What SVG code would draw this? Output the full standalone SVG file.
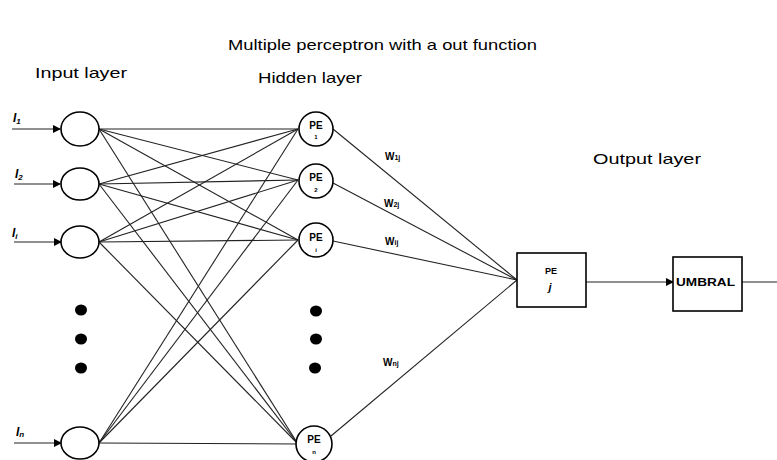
<svg xmlns="http://www.w3.org/2000/svg" width="777" height="460" viewBox="0 0 777 460">
<defs>
<marker id="ah" markerWidth="8" markerHeight="8" refX="7" refY="4" orient="auto" markerUnits="userSpaceOnUse">
<path d="M0,0 L8,4 L0,8 Z" fill="#000"/>
</marker>
<style>
.lbl{font-family:"Liberation Sans",Arial,sans-serif;font-size:15px;fill:#000}
.sm{font-family:"Liberation Sans",Arial,sans-serif;font-weight:bold;fill:#000}
.node{fill:#fff;stroke:#000;stroke-width:1.6}
.ln{stroke:#222;stroke-width:1.1;fill:none}
.dot{fill:#000}
</style>
</defs>
<rect width="777" height="460" fill="#fff"/>
<text class="lbl" x="228" y="50" textLength="309" lengthAdjust="spacingAndGlyphs">Multiple perceptron with a out function</text>
<text class="lbl" x="35" y="78" textLength="92" lengthAdjust="spacingAndGlyphs">Input layer</text>
<text class="lbl" x="258" y="83" textLength="104" lengthAdjust="spacingAndGlyphs">Hidden layer</text>
<text class="lbl" x="593" y="164" textLength="108" lengthAdjust="spacingAndGlyphs">Output layer</text>
<g id="connectors">
<line class="ln" x1="12" y1="129" x2="60" y2="129" marker-end="url(#ah)" stroke-width="1.4"/>
<line class="ln" x1="14" y1="184" x2="60" y2="184" marker-end="url(#ah)" stroke-width="1.4"/>
<line class="ln" x1="14" y1="242" x2="61" y2="242" marker-end="url(#ah)" stroke-width="1.4"/>
<line class="ln" x1="14" y1="443" x2="61" y2="443" marker-end="url(#ah)" stroke-width="1.4"/>
<g>
<line class="ln" x1="99" y1="129" x2="298" y2="129"/>
<line class="ln" x1="99" y1="129" x2="298" y2="180"/>
<line class="ln" x1="99" y1="129" x2="298" y2="240"/>
<line class="ln" x1="99" y1="129" x2="298" y2="444"/>
<line class="ln" x1="99" y1="184" x2="298" y2="129"/>
<line class="ln" x1="99" y1="184" x2="298" y2="180"/>
<line class="ln" x1="99" y1="184" x2="298" y2="240"/>
<line class="ln" x1="99" y1="184" x2="298" y2="444"/>
<line class="ln" x1="99" y1="242" x2="298" y2="129"/>
<line class="ln" x1="99" y1="242" x2="298" y2="180"/>
<line class="ln" x1="99" y1="242" x2="298" y2="240"/>
<line class="ln" x1="99" y1="242" x2="298" y2="444"/>
<line class="ln" x1="99" y1="443" x2="298" y2="129"/>
<line class="ln" x1="99" y1="443" x2="298" y2="180"/>
<line class="ln" x1="99" y1="443" x2="298" y2="240"/>
<line class="ln" x1="99" y1="443" x2="298" y2="444"/>
</g>
<line class="ln" x1="333" y1="129" x2="517" y2="280"/>
<line class="ln" x1="333" y1="183" x2="517" y2="280"/>
<line class="ln" x1="333" y1="241" x2="517" y2="280"/>
<line class="ln" x1="331" y1="436" x2="517" y2="280"/>
<line class="ln" x1="586" y1="282" x2="673" y2="282" marker-end="url(#ah)" stroke-width="1.3"/>
<line class="ln" x1="742" y1="282" x2="777" y2="282" stroke-width="1.3"/>
</g>
<g id="in1"><ellipse class="node" cx="80" cy="129" rx="19" ry="17"/><text class="sm" font-size="12" font-style="italic" x="13" y="122">I<tspan font-size="8" dy="2">1</tspan></text></g>
<g id="in2"><ellipse class="node" cx="80" cy="184" rx="19" ry="16"/><text class="sm" font-size="12" font-style="italic" x="15" y="178">I<tspan font-size="8" dy="2">2</tspan></text></g>
<g id="in3"><ellipse class="node" cx="80" cy="242" rx="19" ry="16"/><text class="sm" font-size="12" font-style="italic" x="12" y="237">I<tspan font-size="8" dy="2">i</tspan></text></g>
<g id="inn"><ellipse class="node" cx="80" cy="443" rx="19" ry="16"/><text class="sm" font-size="12" font-style="italic" x="16" y="436">I<tspan font-size="8" dy="1">n</tspan></text></g>
<g id="indots"><ellipse class="dot" cx="81" cy="310" rx="6" ry="5.5"/><ellipse class="dot" cx="81" cy="339" rx="6" ry="5.5"/><ellipse class="dot" cx="81" cy="368" rx="6" ry="5.5"/></g>
<g id="pe1"><circle class="node" cx="316" cy="129" r="17"/><text class="sm" font-size="10" x="316" y="129" text-anchor="middle">PE</text><text class="sm" font-size="6" x="316" y="139" text-anchor="middle">1</text></g>
<g id="pe2"><circle class="node" cx="316" cy="181" r="17"/><text class="sm" font-size="10" x="316" y="181" text-anchor="middle">PE</text><text class="sm" font-size="6" x="316" y="192" text-anchor="middle">2</text></g>
<g id="pe3"><circle class="node" cx="316" cy="240" r="17"/><text class="sm" font-size="10" x="316" y="241" text-anchor="middle">PE</text><text class="sm" font-size="6" x="316" y="252" text-anchor="middle">i</text></g>
<g id="pen"><circle class="node" cx="314" cy="444" r="18"/><text class="sm" font-size="10" x="314" y="443" text-anchor="middle">PE</text><text class="sm" font-size="6" x="314" y="454" text-anchor="middle">n</text></g>
<g id="hdots"><ellipse class="dot" cx="316" cy="311" rx="6" ry="5.5"/><ellipse class="dot" cx="316" cy="339" rx="6" ry="5.5"/><ellipse class="dot" cx="315" cy="368" rx="6" ry="5.5"/></g>
<g id="weights">
<text class="sm" font-size="10" x="385" y="160">W<tspan font-size="7">1j</tspan></text>
<text class="sm" font-size="10" x="384" y="207">W<tspan font-size="7">2j</tspan></text>
<text class="sm" font-size="10" x="385" y="245">W<tspan font-size="7">ij</tspan></text>
<text class="sm" font-size="10" x="383" y="366">W<tspan font-size="7">nj</tspan></text>
</g>
<g id="pej"><rect class="node" x="517" y="253" width="69" height="54" stroke-width="1.4"/><text class="sm" font-size="9" x="551" y="274" text-anchor="middle">PE</text><text class="sm" font-size="11" font-style="italic" x="550" y="291" text-anchor="middle">j</text></g>
<g id="umbral"><rect class="node" x="673" y="257" width="69" height="54" stroke-width="1.4"/><text class="sm" font-size="10" x="676" y="286" textLength="59" lengthAdjust="spacingAndGlyphs">UMBRAL</text></g>
</svg>
